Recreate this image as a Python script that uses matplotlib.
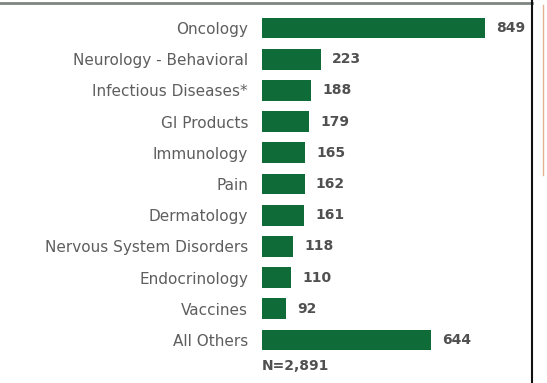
import numpy as np
import matplotlib.pyplot as plt
from matplotlib.lines import Line2D

categories = ['Oncology', 'Neurology - Behavioral', 'Infectious Diseases*', 'GI Products',
              'Immunology', 'Pain', 'Dermatology', 'Nervous System Disorders',
              'Endocrinology', 'Vaccines', 'All Others']
counts = [849, 223, 188, 179, 165, 162, 161, 118, 110, 92, 644]
total_label = 'N=2,891'

W, H = 547, 383
fig = plt.figure(figsize=(W / 100, H / 100), dpi=100)
fig.patch.set_facecolor('white')

# axes placed in pixel terms: bars start at x=262, frame line at x=532
ax = fig.add_axes([262 / W, 0, 270 / W, 1])
pos = np.arange(len(categories))
ax.barh(pos, counts, height=0.67, color='#0f6b38')

row = 31.2
top_c = 28
ax.set_ylim((H - top_c) / row, -top_c / row)
ax.set_xlim(0, 849 * 270 / 223)

ax.set_yticks(pos)
ax.set_yticklabels(categories, fontsize=11, color='#5e5e5e', family='DejaVu Sans')
ax.tick_params(axis='y', length=0, pad=10)
ax.set_xticks([])
for s in ['top', 'left', 'bottom', 'right']:
    ax.spines[s].set_visible(False)

for p, v in zip(pos, counts):
    ax.annotate(str(v), (v, p), xytext=(8, 0), textcoords='offset points',
                va='center', ha='left', fontsize=10, fontweight='bold', color='#505050')

ax.text(0, (366 - top_c) / row, total_label, va='center', ha='left',
        fontsize=10, fontweight='bold', color='#505050')

# frame lines around the picture
fig.add_artist(Line2D([0, 532 / W], [1 - 3 / H, 1 - 3 / H], color='#7f8580', lw=2))
fig.add_artist(Line2D([532 / W, 532 / W], [0, 1], color='#111111', lw=1.5))
fig.add_artist(Line2D([543 / W, 543 / W], [1 - 5 / H, 1 - 175 / H], color='#e8b090', lw=1))

fig.savefig('out.png', dpi=100, facecolor='white')
